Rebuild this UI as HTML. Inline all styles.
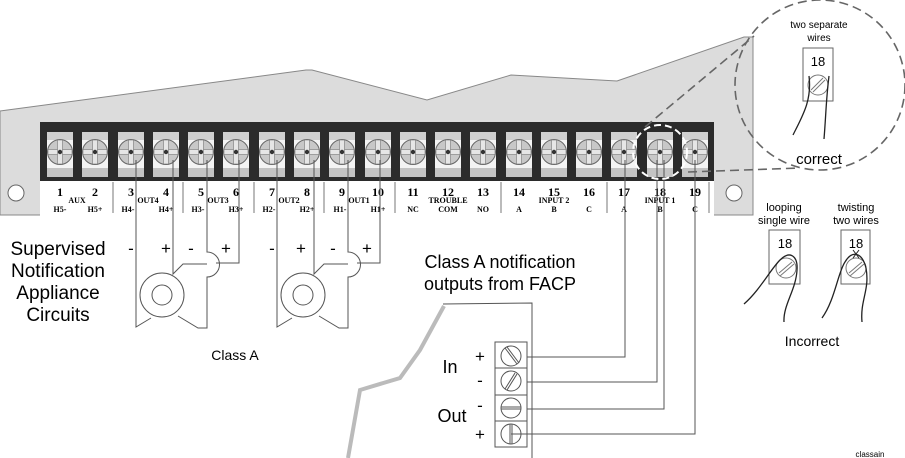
<!DOCTYPE html>
<html><head><meta charset="utf-8"><style>
html,body{margin:0;padding:0;background:#fff;}
svg{display:block;}
.s{font-family:"Liberation Sans",sans-serif;}
.n{font-family:"Liberation Serif",serif;font-weight:bold;}
</style></head><body>
<svg width="905" height="458" viewBox="0 0 905 458" xmlns="http://www.w3.org/2000/svg">
<defs>
<g id="t">
<rect x="-13" y="132" width="26" height="45" fill="#f4f4f4"/>
<rect x="-13" y="132" width="26" height="8" fill="#cfcfcf"/>
<rect x="-13" y="168" width="26" height="9" fill="#c4c4c4"/>
<circle cx="0" cy="152" r="12.5" fill="#c8c8c8" stroke="#666" stroke-width="1"/>
<rect x="-12" y="149.5" width="24" height="5" fill="#e6e6e6" stroke="#777" stroke-width="0.6"/>
<rect x="-2.5" y="140" width="5" height="24" fill="#e6e6e6" stroke="#777" stroke-width="0.6"/>
<circle cx="0" cy="152" r="2.2" fill="#333"/>
</g>
<g id="spk" fill="none" stroke="#555" stroke-width="1">
<path d="M136,210 V327 L151,318"/>
<path d="M178,316 L198,328 H207 V277 A12,12 0 0 0 207,252 V210"/>
<path d="M173,210 V274 L183,264 H207"/>
<path d="M239,210 V263 H216"/>
<circle cx="162" cy="295" r="22"/>
<circle cx="162" cy="295" r="10"/>
</g>
</defs>
<polygon points="0,111 306,70 312,70 427,100 511,75 617,81 744,37 753,37 753,215 0,215" fill="#dcdcdc" stroke="#888" stroke-width="1"/>
<rect x="40" y="181" width="674" height="35" fill="#fff"/>
<circle cx="16" cy="193" r="8" fill="#fff" stroke="#666"/>
<circle cx="734" cy="193" r="8" fill="#fff" stroke="#666"/>
<rect x="40" y="122" width="674" height="59" fill="#2b2b2b"/>
<use href="#t" x="60"/><use href="#t" x="95"/><use href="#t" x="131"/><use href="#t" x="166"/>
<use href="#t" x="201"/><use href="#t" x="236"/><use href="#t" x="272"/><use href="#t" x="307"/>
<use href="#t" x="342"/><use href="#t" x="378"/><use href="#t" x="413"/><use href="#t" x="448"/>
<use href="#t" x="483"/><use href="#t" x="519"/><use href="#t" x="554"/><use href="#t" x="589"/>
<use href="#t" x="624"/><use href="#t" x="660"/><use href="#t" x="695"/>
<g stroke="#777" stroke-width="1">
<line x1="113" y1="182" x2="113" y2="213"/><line x1="183" y1="182" x2="183" y2="213"/>
<line x1="254" y1="182" x2="254" y2="213"/><line x1="324" y1="182" x2="324" y2="213"/>
<line x1="395" y1="182" x2="395" y2="213"/><line x1="501" y1="182" x2="501" y2="213"/>
<line x1="607" y1="182" x2="607" y2="213"/><line x1="709" y1="182" x2="709" y2="213"/>
</g>
<g class="n" font-size="12" text-anchor="middle">
<text x="60" y="196">1</text><text x="95" y="196">2</text><text x="131" y="196">3</text><text x="166" y="196">4</text>
<text x="201" y="196">5</text><text x="236" y="196">6</text><text x="272" y="196">7</text><text x="307" y="196">8</text>
<text x="342" y="196">9</text><text x="378" y="196">10</text><text x="413" y="196">11</text><text x="448" y="196">12</text>
<text x="483" y="196">13</text><text x="519" y="196">14</text><text x="554" y="196">15</text><text x="589" y="196">16</text>
<text x="624" y="196">17</text><text x="660" y="196">18</text><text x="695" y="196">19</text>
</g>
<g class="n" font-size="8" text-anchor="middle" font-weight="normal">
<text x="77" y="203">AUX</text><text x="148" y="203">OUT4</text><text x="218" y="203">OUT3</text>
<text x="289" y="203">OUT2</text><text x="359" y="203">OUT1</text><text x="448" y="203">TROUBLE</text>
<text x="554" y="203">INPUT 2</text><text x="660" y="203">INPUT 1</text>
<text x="60" y="212">H5-</text><text x="95" y="212">H5+</text><text x="128" y="212">H4-</text><text x="166" y="212">H4+</text>
<text x="198" y="212">H3-</text><text x="236" y="212">H3+</text><text x="269" y="212">H2-</text><text x="307" y="212">H2+</text>
<text x="340" y="212">H1-</text><text x="378" y="212">H1+</text><text x="413" y="212">NC</text><text x="448" y="212">COM</text>
<text x="483" y="212">NO</text><text x="519" y="212">A</text><text x="554" y="212">B</text><text x="589" y="212">C</text>
<text x="624" y="212">A</text><text x="660" y="212">B</text><text x="695" y="212">C</text>
</g>
<g stroke="#555" fill="none">
<line x1="136" y1="160" x2="136" y2="210"/><line x1="173" y1="160" x2="173" y2="210"/>
<line x1="207" y1="160" x2="207" y2="210"/><line x1="239" y1="160" x2="239" y2="210"/>
<line x1="277" y1="160" x2="277" y2="210"/><line x1="314" y1="160" x2="314" y2="210"/>
<line x1="348" y1="160" x2="348" y2="210"/><line x1="380" y1="160" x2="380" y2="210"/>
</g>
<use href="#spk"/>
<use href="#spk" x="141"/>
<g class="s" font-size="17" text-anchor="middle">
<text x="131" y="254">-</text><text x="166" y="254">+</text><text x="191" y="254">-</text><text x="226" y="254">+</text>
<text x="272" y="254">-</text><text x="301" y="254">+</text><text x="333" y="254">-</text><text x="367" y="254">+</text>
</g>
<g class="s" font-size="19" text-anchor="middle">
<text x="58" y="255">Supervised</text><text x="58" y="277">Notification</text>
<text x="58" y="299">Appliance</text><text x="58" y="321">Circuits</text>
</g>
<text class="s" x="235" y="360" font-size="14" text-anchor="middle">Class A</text>
<text class="s" x="500" y="268" font-size="18" text-anchor="middle">Class A notification</text>
<text class="s" x="500" y="290" font-size="18" text-anchor="middle">outputs from FACP</text>
<polyline points="443,304 532,303 532,458" fill="none" stroke="#555"/>
<polyline points="444,306 420,350 400,378 360,390 348,458" fill="none" stroke="#bbb" stroke-width="4"/>
<rect x="495" y="342" width="32" height="105" fill="#fff" stroke="#555"/>
<g stroke="#555" fill="none">
<line x1="495" y1="368" x2="527" y2="368"/><line x1="495" y1="395" x2="527" y2="395"/><line x1="495" y1="421" x2="527" y2="421"/>
<circle cx="511" cy="356" r="10"/><line x1="505" y1="348" x2="517" y2="364"/><line x1="507" y1="347" x2="519" y2="363"/>
<circle cx="511" cy="381" r="10"/><line x1="505" y1="389" x2="515" y2="373"/><line x1="507" y1="390" x2="517" y2="374"/>
<circle cx="511" cy="408" r="10"/><line x1="501" y1="407" x2="521" y2="407"/><line x1="501" y1="409" x2="521" y2="409"/>
<circle cx="511" cy="434" r="10"/><line x1="510" y1="424" x2="510" y2="444"/><line x1="512" y1="424" x2="512" y2="444"/>
<polyline points="527,357 625,357 625,160"/>
<polyline points="527,382 657,382 657,160"/>
<polyline points="527,409 664,409 664,160"/>
<polyline points="511,434 695,434 695,160"/>
</g>
<g class="s" font-size="17" text-anchor="middle">
<text x="480" y="362">+</text><text x="480" y="386">-</text><text x="480" y="411">-</text><text x="480" y="440">+</text>
</g>
<text class="s" x="450" y="373" font-size="18" text-anchor="middle">In</text>
<text class="s" x="452" y="422" font-size="18" text-anchor="middle">Out</text>
<circle cx="660" cy="152" r="27" fill="none" stroke="#fff" stroke-width="2" stroke-dasharray="7,4"/>
<g stroke="#666" stroke-width="1.6" stroke-dasharray="9,5" fill="none">
<line x1="645" y1="127" x2="754" y2="36"/>
<line x1="688" y1="172" x2="800" y2="168"/>
<circle cx="820" cy="85" r="85"/>
</g>
<text class="s" x="819" y="28" font-size="10" text-anchor="middle">two separate</text>
<text class="s" x="819" y="41" font-size="10" text-anchor="middle">wires</text>
<rect x="803" y="48" width="30" height="53" fill="#fff" stroke="#666"/>
<text class="s" x="818" y="66" font-size="13" text-anchor="middle">18</text>
<circle cx="818" cy="85" r="10" fill="none" stroke="#777"/>
<line x1="811" y1="90" x2="823" y2="78" stroke="#777"/><line x1="813" y1="92" x2="825" y2="80" stroke="#777"/>
<path d="M809,76 C812,100 803,115 793,135 M829,76 C826,100 826,115 824,139" fill="none" stroke="#222" stroke-width="1.3"/>
<text class="s" x="819" y="164" font-size="15" text-anchor="middle">correct</text>
<text class="s" x="784" y="211" font-size="11" text-anchor="middle">looping</text>
<text class="s" x="784" y="224" font-size="11" text-anchor="middle">single wire</text>
<text class="s" x="856" y="211" font-size="11" text-anchor="middle">twisting</text>
<text class="s" x="856" y="224" font-size="11" text-anchor="middle">two wires</text>
<rect x="769" y="230" width="31" height="54" fill="#fff" stroke="#666"/>
<rect x="841" y="230" width="29" height="54" fill="#fff" stroke="#666"/>
<text class="s" x="785" y="248" font-size="13" text-anchor="middle">18</text>
<text class="s" x="856" y="248" font-size="13" text-anchor="middle">18</text>
<g stroke="#777" fill="none">
<circle cx="786" cy="268" r="10"/><line x1="779" y1="273" x2="792" y2="262"/><line x1="780" y1="276" x2="794" y2="264"/>
<circle cx="856" cy="268" r="10"/><line x1="849" y1="273" x2="862" y2="262"/><line x1="850" y1="276" x2="864" y2="264"/>
</g>
<path d="M744,304 C760,290 770,270 780,260 C790,250 798,256 797,270 C796,290 783,305 784,322" fill="none" stroke="#222" stroke-width="1.3"/>
<path d="M822,318 C835,300 838,272 845,262 C852,250 862,252 866,268 C870,290 860,300 862,322" fill="none" stroke="#222" stroke-width="1.3"/>
<path d="M853,250 L859,258 M859,250 L853,258" stroke="#222"/>
<text class="s" x="812" y="346" font-size="14" text-anchor="middle">Incorrect</text>
<text class="s" x="870" y="457" font-size="8" text-anchor="middle">classain</text>
</svg>
</body></html>
